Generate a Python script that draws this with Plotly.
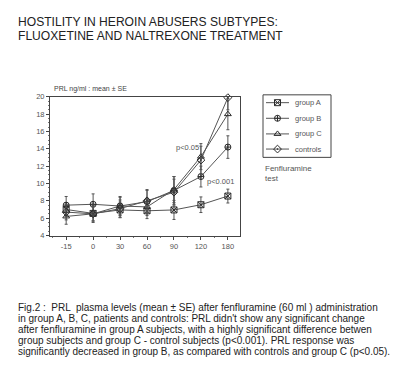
import plotly.graph_objects as go

times = ["-15", "0", "30", "60", "90", "120", "180"]
group_a = [7.0, 6.55, 6.95, 6.85, 6.95, 7.55, 8.55]
group_a_se = [0.8, 0.9, 0.9, 0.9, 1.1, 0.9, 0.8]
group_b = [7.5, 7.6, 7.4, 7.9, 9.2, 10.8, 14.2]
group_b_se = [1.0, 1.2, 1.1, 1.3, 1.6, 1.2, 1.3]
group_c = [6.2, 6.5, 7.4, 7.3, 9.3, 13.1, 18.0]
group_c_se = [0.9, 0.8, 1.0, 1.0, 1.5, 1.5, 1.8]
controls = [6.7, 6.5, 7.1, 8.0, 9.0, 12.7, 19.9]
controls_se = [0.9, 1.0, 1.0, 1.3, 1.5, 1.6, 1.4]
legend_names = ["group A", "group B", "group C", "controls"]

W, H = 396, 388
L, R, T, B = 50, 240, 95, 237

idx = list(range(len(times)))
col = "#2a2a2a"
lcol = "#555555"
symbols = ["square-x-open", "circle-cross-open", "triangle-up-open", "diamond-open-dot"]
values = [group_a, group_b, group_c, controls]
errors = [group_a_se, group_b_se, group_c_se, controls_se]

fig = go.Figure()
for name, vals, se, sym in zip(legend_names, values, errors, symbols):
    fig.add_trace(go.Scatter(
        x=idx, y=vals, name=name, mode="lines+markers",
        line=dict(color=lcol, width=1),
        marker=dict(symbol=sym, size=6, color=col, line=dict(width=1, color=col)),
        error_y=dict(type="data", array=se, visible=True, color=lcol, thickness=1, width=1.5),
        cliponaxis=False, showlegend=False,
    ))

font = "Liberation Sans, Arial, sans-serif"
ann = []
shapes = []

def txt(x, y, s, size, color="#555", anchor="left"):
    ann.append(dict(x=x, y=y, xref="x2", yref="y2", xanchor=anchor, yanchor="middle",
                    text=s, showarrow=False, font=dict(family=font, size=size, color=color)))

# manual legend in a full-figure pixel-coordinate axis
leg_rows = [101, 117, 133, 148.5]
shapes.append(dict(type="rect", xref="x2", yref="y2", x0=263, x1=331, y0=93, y1=157,
                   line=dict(color="#444", width=1)))
for name, sym, ry in zip(legend_names, symbols, leg_rows):
    shapes.append(dict(type="line", xref="x2", yref="y2", x0=266, x1=289, y0=ry, y1=ry,
                       line=dict(color=lcol, width=1), layer="below"))
    fig.add_trace(go.Scatter(x=[277.5], y=[ry], xaxis="x2", yaxis="y2", mode="markers",
                             marker=dict(symbol=sym, size=6, color=col, line=dict(width=1, color=col)),
                             cliponaxis=False, showlegend=False, hoverinfo="skip"))
    txt(293, ry, name, 7.5)

txt(16, 18, "HOSTILITY IN HEROIN ABUSERS SUBTYPES:", 12.1, "#222")
txt(16, 33, "FLUOXETINE AND NALTREXONE TREATMENT", 12.1, "#222")
txt(52, 87, "PRL ng/ml : mean ± SE", 7, "#444")
txt(263, 168, "Fenfluramine", 8)
txt(263, 179, "test", 8)

ann.append(dict(x=4.52, y=14.1, xref="x", yref="y", xanchor="center", yanchor="middle",
                text="p<0.05", showarrow=False, font=dict(family=font, size=7.5, color="#555")))
ann.append(dict(x=5.74, y=10.2, xref="x", yref="y", xanchor="center", yanchor="middle",
                text="p<0.001", showarrow=False, font=dict(family=font, size=7.5, color="#555")))

caption = [
    "Fig.2 :  PRL  plasma levels (mean ± SE) after fenfluramine (60 ml ) administration",
    "in group A, B, C, patients and controls: PRL didn't show any significant change",
    "after fenfluramine in group A subjects, with a highly significant difference betwen",
    "group subjects and group C - control subjects (p<0.001). PRL response was",
    "significantly decreased in group B, as compared with controls and group C (p<0.05).",
]
for i, line in enumerate(caption):
    txt(16, 310.5 + i * 11.2, line, 10, "#222")

axis_common = dict(showgrid=False, zeroline=False, showline=True, linecolor="#444", linewidth=1,
                   mirror=True, ticks="outside", ticklen=3, tickcolor="#444",
                   tickfont=dict(family=font, size=7.5, color="#555"))

fig.update_layout(
    width=W, height=H,
    margin=dict(l=0, r=0, t=0, b=0, pad=0),
    paper_bgcolor="white", plot_bgcolor="rgba(0,0,0,0)",
    showlegend=False,
    annotations=ann, shapes=shapes,
    xaxis=dict(domain=[L / W, R / W], anchor="y", range=[-0.6, 6.45], tickmode="array",
               tickvals=idx, ticktext=times,
               minor=dict(ticks="outside", ticklen=1.5, tickcolor="#777", dtick=0.5, tick0=0),
               **axis_common),
    yaxis=dict(domain=[1 - B / H, 1 - T / H], anchor="x", range=[4, 20], tickmode="linear",
               tick0=4, dtick=2,
               minor=dict(ticks="outside", ticklen=1.5, tickcolor="#777", dtick=0.5),
               **axis_common),
    xaxis2=dict(domain=[0, 1], anchor="y2", range=[0, W], visible=False, fixedrange=True),
    yaxis2=dict(domain=[0, 1], anchor="x2", range=[H, 0], visible=False, fixedrange=True),
)

fig.write_html("out.html", config={"displayModeBar": False},
               post_script="document.body.style.margin='0';document.body.style.overflow='hidden';")
